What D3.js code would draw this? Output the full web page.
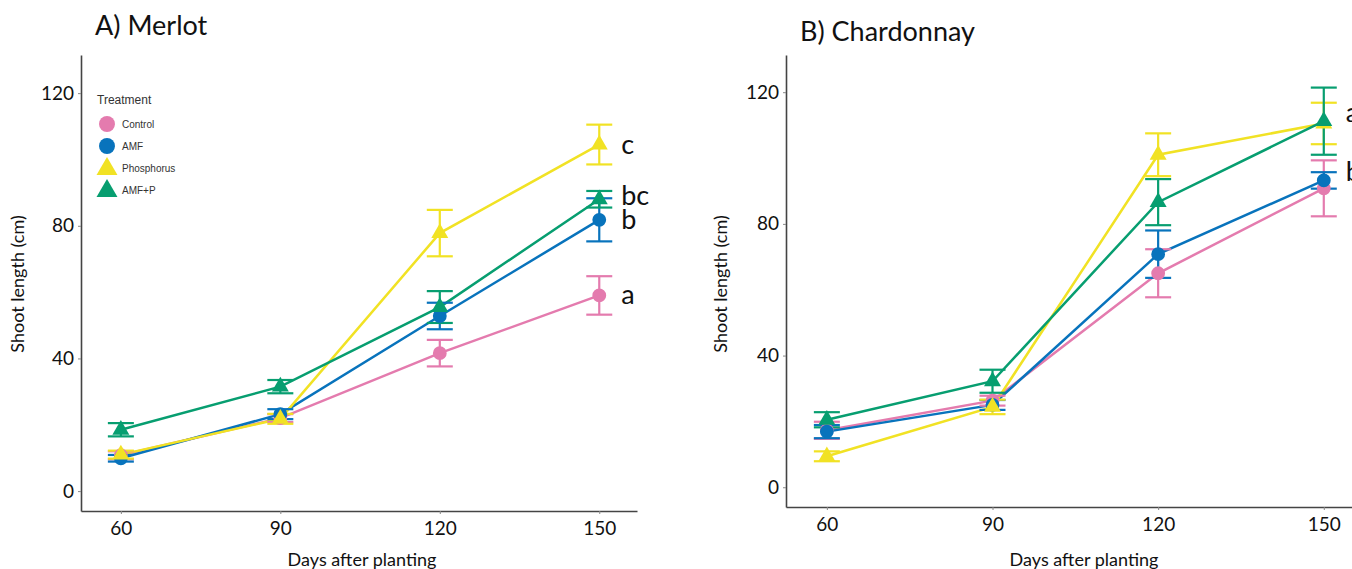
<!DOCTYPE html>
<html>
<head>
<meta charset="utf-8">
<script src="https://cdn.jsdelivr.net/npm/d3@7"></script>
<style>
  html, body { margin: 0; padding: 0; background: #fff; overflow: hidden; }
  svg { display: block; }
</style>
</head>
<body>
<svg id="mySvg"></svg>
<script>
// ---- data ----
const days = [60, 90, 120, 150];
const treatments = ["Control", "AMF", "Phosphorus", "AMF+P"];
const yTicks = [0, 40, 80, 120];

const merlotControl = [10.8, 22.0, 41.6, 59.0];
const merlotControlSE = [1.2, 1.2, 4.0, 5.8];
const merlotAMF = [9.9, 23.2, 52.8, 81.8];
const merlotAMFSE = [1.0, 1.5, 4.0, 6.5];
const merlotPhos = [11.0, 21.8, 77.8, 104.5];
const merlotPhosSE = [1.2, 1.5, 7.0, 6.0];
const merlotAMFP = [18.5, 31.5, 55.5, 88.0];
const merlotAMFPSE = [2.0, 2.0, 4.8, 2.5];
const merlotLetters = ["a", "b", "c", "bc"];

const chardControl = [17.3, 26.3, 65.0, 90.8];
const chardControlSE = [2.6, 1.5, 7.3, 8.5];
const chardAMF = [16.9, 25.0, 70.8, 93.2];
const chardAMFSE = [2.0, 1.5, 7.2, 2.5];
const chardPhos = [9.4, 24.4, 101.0, 110.5];
const chardPhosSE = [1.5, 2.2, 6.5, 6.3];
const chardAMFP = [20.5, 32.2, 86.6, 111.2];
const chardAMFPSE = [2.3, 3.5, 7.0, 10.2];
// one letter per group pair (Control/AMF share "b", Phosphorus/AMF+P share "a")
const chardLetters = ["", "b", "", "a"];

const colors = ["#E47BAE", "#0873BC", "#F1E224", "#079E70"];
const shapes = ["circle", "circle", "triangle", "triangle"];

const width = 1352;
const height = 569;
const font = "Lato, 'Open Sans', sans-serif";

const svg = d3.select("#mySvg").attr("width", width).attr("height", height);

const panels = [
  {
    title: "A) Merlot", titleX: 95, titleY: 35,
    series: [merlotControl, merlotAMF, merlotPhos, merlotAMFP],
    errors: [merlotControlSE, merlotAMFSE, merlotPhosSE, merlotAMFPSE],
    letters: merlotLetters,
    letterDy: [0, 0, 0, -3],
    x: d3.scaleLinear().domain([52.5, 157.1]).range([81, 637]),
    y: d3.scaleLinear().domain([-6, 131.5]).range([511, 55]),
    yTitleX: 24, xTitleX: 362, legend: true
  },
  {
    title: "B) Chardonnay", titleX: 800, titleY: 41,
    series: [chardControl, chardAMF, chardPhos, chardAMFP],
    errors: [chardControlSE, chardAMFSE, chardPhosSE, chardAMFPSE],
    letters: chardLetters,
    letterDy: [0, -8, 0, -8],
    x: d3.scaleLinear().domain([52.6, 160]).range([786, 1379]),
    y: d3.scaleLinear().domain([-6, 131.3]).range([507, 55]),
    yTitleX: 727, xTitleX: 1084, legend: false
  }
];

const symbolFor = (shape, size) =>
  d3.symbol().type(shape === "circle" ? d3.symbolCircle : d3.symbolTriangle).size(size)();

panels.forEach((p) => {
  const g = svg.append("g");
  const [x0] = p.x.range();
  const [yb] = p.y.range();

  // title
  g.append("text")
    .attr("x", p.titleX).attr("y", p.titleY)
    .attr("font-family", font)
    .attr("font-size", 27)
    .attr("fill", "#111")
    .text(p.title);

  // y axis
  const yAxis = g.append("g")
    .attr("transform", `translate(${x0}, 0)`)
    .call(d3.axisLeft(p.y).tickValues(yTicks).tickSize(3).tickSizeOuter(0).tickPadding(4));
  yAxis.select(".domain").attr("stroke", "#444").attr("stroke-width", 1.6);
  yAxis.selectAll(".tick line").attr("stroke", "#888");
  yAxis.selectAll(".tick text")
    .attr("font-family", font)
    .attr("font-size", 19).attr("fill", "#111");

  // x axis
  const xAxis = g.append("g")
    .attr("transform", `translate(0, ${yb})`)
    .call(d3.axisBottom(p.x).tickValues(days).tickSize(3).tickSizeOuter(0).tickPadding(8));
  xAxis.select(".domain").attr("stroke", "#444").attr("stroke-width", 1.6);
  xAxis.selectAll(".tick line").attr("stroke", "#888");
  xAxis.selectAll(".tick text")
    .attr("font-family", font)
    .attr("font-size", 19).attr("fill", "#111");

  // axis titles
  g.append("text")
    .attr("transform", `translate(${p.yTitleX}, 284) rotate(-90)`)
    .attr("text-anchor", "middle")
    .attr("font-family", font)
    .attr("font-size", 18).attr("fill", "#111")
    .text("Shoot length (cm)");

  g.append("text")
    .attr("x", p.xTitleX).attr("y", 566)
    .attr("text-anchor", "middle")
    .attr("font-family", font)
    .attr("font-size", 18).attr("fill", "#111")
    .text("Days after planting");

  const line = d3.line().x((d, i) => p.x(days[i])).y((d) => p.y(d));

  // lines
  p.series.forEach((s, k) => {
    g.append("path")
      .datum(s)
      .attr("d", line)
      .attr("fill", "none")
      .attr("stroke", colors[k])
      .attr("stroke-width", 2.5);
  });

  // error bars
  p.series.forEach((s, k) => {
    const eb = g.append("g").attr("stroke", colors[k]).attr("stroke-width", 2.2);
    s.forEach((v, i) => {
      const cx = p.x(days[i]);
      const lo = p.y(v - p.errors[k][i]);
      const hi = p.y(v + p.errors[k][i]);
      eb.append("line").attr("x1", cx).attr("x2", cx).attr("y1", lo).attr("y2", hi);
      eb.append("line").attr("x1", cx - 13).attr("x2", cx + 13).attr("y1", lo).attr("y2", lo);
      eb.append("line").attr("x1", cx - 13).attr("x2", cx + 13).attr("y1", hi).attr("y2", hi);
    });
  });

  // points
  p.series.forEach((s, k) => {
    g.selectAll(null)
      .data(s)
      .enter()
      .append("path")
      .attr("d", symbolFor(shapes[k], shapes[k] === "circle" ? 150 : 125))
      .attr("transform", (d, i) => `translate(${p.x(days[i])}, ${p.y(d)})`)
      .attr("fill", colors[k]);
  });

  // significance letters at last day
  p.series.forEach((s, k) => {
    if (!p.letters[k]) return;
    g.append("text")
      .attr("x", p.x(days[3]) + 22)
      .attr("y", p.y(s[3]) + 9 + p.letterDy[k])
      .attr("font-family", font)
      .attr("font-size", 27).attr("fill", "#111")
      .text(p.letters[k]);
  });

  // legend
  if (p.legend) {
    const lg = g.append("g");
    lg.append("text")
      .attr("x", 97).attr("y", 104)
      .attr("font-family", "'Liberation Sans', Arial, sans-serif")
      .attr("font-size", 12).attr("fill", "#333")
      .text("Treatment");
    treatments.forEach((t, k) => {
      const yy = 124 + k * 22;
      lg.append("path")
        .attr("d", symbolFor(shapes[k], shapes[k] === "circle" ? 200 : 190))
        .attr("transform", `translate(107, ${yy + (shapes[k] === "triangle" ? 1 : 0)})`)
        .attr("fill", colors[k]);
      lg.append("text")
        .attr("x", 122).attr("y", yy + 4)
        .attr("font-family", "'Liberation Sans', Arial, sans-serif")
        .attr("font-size", 10).attr("fill", "#333")
        .text(t);
    });
  }
});
</script>
</body>
</html>
